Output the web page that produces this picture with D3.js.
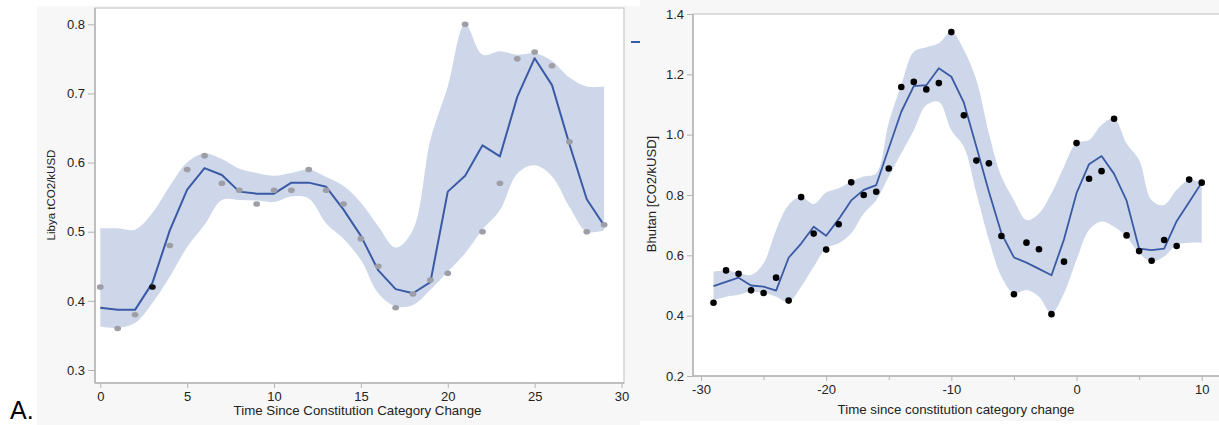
<!DOCTYPE html>
<html><head><meta charset="utf-8">
<script src="https://cdn.jsdelivr.net/npm/d3@7"></script>
<style>
body{margin:0;background:#fff;}
svg{display:block;font-family:"Liberation Sans",Arial,Helvetica,sans-serif;}
</style></head>
<body>
<svg id="c" width="1219" height="425"></svg>
<script>
// ---------- Libya (left panel) ----------
const libyaX = d3.range(0, 30);
const libyaObs = [0.42,0.36,0.38,0.42,0.48,0.59,0.61,0.57,0.56,0.54,0.56,0.56,0.59,0.56,0.54,0.49,0.45,0.39,0.41,0.43,0.44,0.80,0.50,0.57,0.75,0.76,0.74,0.63,0.50,0.51];
const libyaFit = [0.390,0.387,0.387,0.426,0.502,0.561,0.592,0.582,0.558,0.555,0.555,0.571,0.571,0.565,0.532,0.494,0.444,0.417,0.411,0.427,0.558,0.581,0.625,0.609,0.695,0.751,0.712,0.627,0.547,0.509];
const libyaUpper = [0.505,0.505,0.503,0.527,0.566,0.600,0.613,0.605,0.591,0.585,0.581,0.585,0.590,0.579,0.566,0.542,0.508,0.477,0.503,0.633,0.710,0.800,0.756,0.761,0.756,0.758,0.747,0.723,0.710,0.710];
const libyaLower = [0.363,0.361,0.368,0.397,0.435,0.478,0.510,0.546,0.546,0.545,0.543,0.551,0.548,0.512,0.490,0.459,0.411,0.392,0.394,0.416,0.442,0.469,0.503,0.531,0.584,0.596,0.580,0.536,0.500,0.502];
const libyaXTicks = [0,5,10,15,20,25,30];
const libyaYTicks = [0.3,0.4,0.5,0.6,0.7,0.8];

// ---------- Bhutan (right panel) ----------
const bhutanX = d3.range(-29, 11);
const bhutanObs = [0.443,0.550,0.539,0.484,0.475,0.526,0.450,0.793,0.672,0.619,0.703,0.842,0.800,0.811,0.888,1.158,1.175,1.150,1.171,1.340,1.064,0.914,0.905,0.664,0.471,0.642,0.620,0.405,0.579,0.972,0.854,0.879,1.053,0.666,0.614,0.582,0.651,0.631,0.851,0.841];
const bhutanFit = [0.498,0.512,0.526,0.500,0.496,0.483,0.592,0.639,0.695,0.665,0.720,0.782,0.817,0.833,0.955,1.076,1.161,1.164,1.220,1.192,1.106,0.960,0.811,0.673,0.593,0.576,0.555,0.534,0.653,0.806,0.902,0.929,0.870,0.781,0.622,0.617,0.622,0.713,0.777,0.841];
const bhutanUpper = [0.546,0.550,0.542,0.535,0.574,0.684,0.767,0.794,0.770,0.808,0.822,0.844,0.861,0.872,1.040,1.165,1.275,1.290,1.303,1.341,1.281,1.181,1.004,0.861,0.783,0.717,0.739,0.806,0.894,0.972,0.982,1.032,1.054,0.971,0.916,0.783,0.767,0.817,0.850,0.841];
const bhutanLower = [0.452,0.463,0.469,0.480,0.475,0.463,0.446,0.496,0.562,0.623,0.640,0.673,0.739,0.783,0.861,0.938,1.015,1.098,1.109,1.015,0.960,0.806,0.651,0.529,0.474,0.485,0.463,0.408,0.474,0.585,0.684,0.712,0.695,0.662,0.607,0.579,0.596,0.634,0.642,0.642];
const bhutanXTicks = [-30,-20,-10,0,10];
const bhutanXMinor = [-25,-15,-5,5];
const bhutanYTicks = [0.2,0.4,0.6,0.8,1.0,1.2,1.4];

const LINE = "#3a5aa6", BAND = "#cdd7e9", AX = "#b4b4b4", TXT = "#222";
const svg = d3.select("#c");
const intFmt = d => String(d);   // plain hyphen minus like the reference

// panel backgrounds
svg.append("rect").attr("x",37).attr("y",6).attr("width",603).attr("height",419).attr("fill","#f7f7f7");
svg.append("rect").attr("x",640).attr("y",0).attr("width",579).attr("height",421).attr("fill","#f7f7f7");

function band(g, xs, lo, hi, x, y){
  const area = d3.area().x((d,i)=>x(xs[i])).y0((d,i)=>y(lo[i])).y1((d,i)=>y(hi[i])).curve(d3.curveCatmullRom.alpha(0.5));
  g.append("path").attr("d", area(xs)).attr("fill", BAND);
}
function fitLine(g, xs, vals, x, y, w){
  const line = d3.line().x((d,i)=>x(xs[i])).y((d,i)=>y(vals[i]));
  g.append("path").attr("d", line(xs)).attr("fill","none").attr("stroke",LINE).attr("stroke-width",w).attr("stroke-linejoin","round");
}

// ---------- left panel ----------
{
  const x = d3.scaleLinear().domain([0,30]).range([100.3,621.5]);
  const y = d3.scaleLinear().domain([0.3,0.8]).range([370,24.3]);
  const L=95, R=624, T=8, B=383;
  const g = svg.append("g");
  g.append("rect").attr("x",L).attr("y",T).attr("width",R-L).attr("height",B-T).attr("fill","#fff").attr("stroke","#c8c8c8").attr("stroke-width",1.2);
  band(g, libyaX, libyaLower, libyaUpper, x, y);
  fitLine(g, libyaX, libyaFit, x, y, 2);
  g.selectAll("ellipse.o").data(libyaX).enter().append("ellipse")
    .attr("cx",d=>x(d)).attr("cy",(d,i)=>y(libyaObs[i])).attr("rx",3.4).attr("ry",2.8)
    .attr("fill",(d,i)=> i===3 ? "#111" : "#9d9ea6");
  const xa = g.append("g").attr("transform",`translate(0,${B})`)
    .call(d3.axisBottom(x).tickValues(libyaXTicks).tickSize(5).tickPadding(4).tickFormat(intFmt));
  const ya = g.append("g").attr("transform",`translate(${L},0)`)
    .call(d3.axisLeft(y).tickValues(libyaYTicks).tickSize(7).tickPadding(3).tickFormat(d3.format(".1f")));
  [xa,ya].forEach(a=>{a.select(".domain").attr("stroke",AX).attr("stroke-width",1.5);
    a.selectAll(".tick line").attr("stroke",AX);
    a.selectAll("text").attr("fill",TXT).style("font-size","13px");});
  ya.select(".domain").attr("d",`M0,${T}V${B}`);
  xa.select(".domain").attr("d",`M${L},0H${R}`);
  g.append("text").attr("x",357.5).attr("y",415).attr("text-anchor","middle").attr("fill",TXT).style("font-size","13.3px").text("Time Since Constitution Category Change");
  g.append("text").attr("transform","translate(55,195) rotate(-90)").attr("text-anchor","middle").attr("fill",TXT).style("font-size","11.5px").text("Libya tCO2/kUSD");
  g.append("line").attr("x1",631).attr("x2",640).attr("y1",42).attr("y2",42).attr("stroke",LINE).attr("stroke-width",2);
}

// ---------- right panel ----------
{
  const x = d3.scaleLinear().domain([-30,10]).range([701,1201.7]);
  const y = d3.scaleLinear().domain([0.2,1.4]).range([376,14]);
  const L=693, R=1219, T=14, B=376;
  const g = svg.append("g");
  g.append("rect").attr("x",L).attr("y",T).attr("width",R-L+2).attr("height",B-T).attr("fill","#fff").attr("stroke","#c8c8c8").attr("stroke-width",1.2);
  band(g, bhutanX, bhutanLower, bhutanUpper, x, y);
  fitLine(g, bhutanX, bhutanFit, x, y, 1.8);
  g.selectAll("circle.o").data(bhutanX).enter().append("circle")
    .attr("cx",d=>x(d)).attr("cy",(d,i)=>y(bhutanObs[i])).attr("r",3.3).attr("fill","#000");
  const xa = g.append("g").attr("transform",`translate(0,${B})`)
    .call(d3.axisBottom(x).tickValues(bhutanXTicks).tickSize(5).tickPadding(4).tickFormat(intFmt));
  g.append("g").attr("transform",`translate(0,${B})`).call(d3.axisBottom(x).tickValues(bhutanXMinor).tickSize(4).tickFormat(""))
    .call(a=>{a.select(".domain").remove(); a.selectAll("line").attr("stroke",AX);});
  const ya = g.append("g").attr("transform",`translate(${L},0)`)
    .call(d3.axisLeft(y).tickValues(bhutanYTicks).tickSize(6).tickPadding(3).tickFormat(d3.format(".1f")));
  [xa,ya].forEach(a=>{a.select(".domain").attr("stroke",AX).attr("stroke-width",1.5);
    a.selectAll(".tick line").attr("stroke",AX);
    a.selectAll("text").attr("fill",TXT).style("font-size","13px");});
  ya.select(".domain").attr("d",`M0,${T}V${B}`);
  xa.select(".domain").attr("d",`M${L},0H${R}`);
  g.append("text").attr("x",956).attr("y",414).attr("text-anchor","middle").attr("fill",TXT).style("font-size","13.3px").text("Time since constitution category change");
  g.append("text").attr("transform","translate(656,194) rotate(-90)").attr("text-anchor","middle").attr("fill",TXT).style("font-size","13px").text("Bhutan [CO2/kUSD]");
}

svg.append("text").attr("x",10).attr("y",419).attr("fill","#000").style("font-size","25px").text("A.");
</script>
</body></html>
